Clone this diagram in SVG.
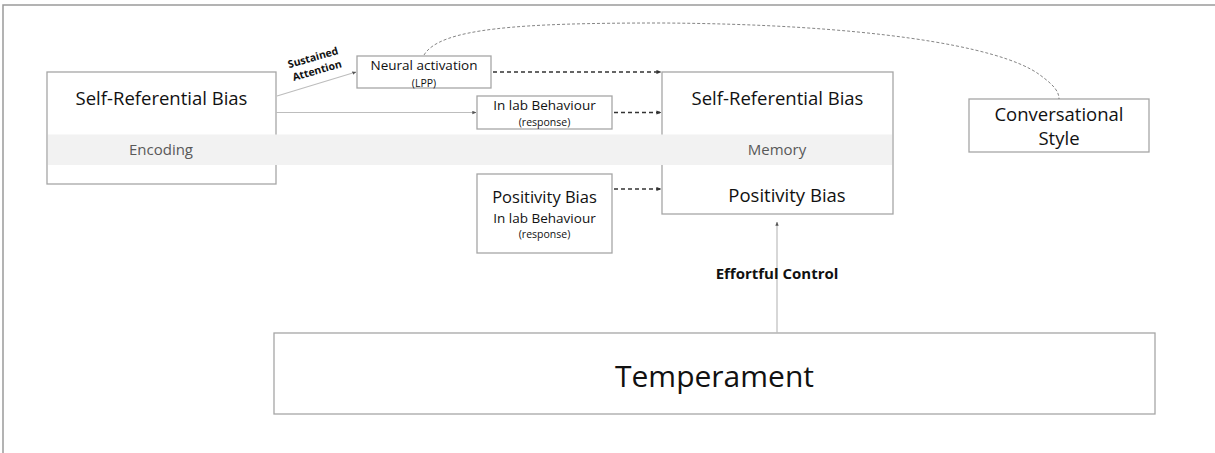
<svg xmlns="http://www.w3.org/2000/svg" width="1215" height="453" viewBox="0 0 1215 453">
  <defs>
    <marker id="tip" viewBox="0 0 6 6" refX="5.5" refY="3" markerWidth="5" markerHeight="5" markerUnits="userSpaceOnUse" orient="auto">
      <path d="M0,0.5 L6,3 L0,5.5 Z" fill="#333"/>
    </marker>
    <marker id="tipGrey" viewBox="0 0 6 6" refX="5.5" refY="3" markerWidth="4" markerHeight="4" markerUnits="userSpaceOnUse" orient="auto">
      <path d="M0,0.5 L6,3 L0,5.5 Z" fill="#555"/>
    </marker>
    <style>
      .frame { stroke: #9a9a9a; stroke-width: 1.5; fill: none; }
      .box { fill: #ffffff; stroke: #a6a6a6; stroke-width: 1.3; }
      .band { fill: #f2f2f2; }
      .t { font-family: "Open Sans", "Liberation Sans", sans-serif; fill: #111; text-anchor: middle; }
      .muted { fill: #595959; }
      .bold { font-weight: bold; }
      .dash { stroke: #333; stroke-width: 1.3; stroke-dasharray: 4 3; fill: none; }
      .solid { stroke: #bdbdbd; stroke-width: 1.2; fill: none; }
      .curve { stroke: #777; stroke-width: 0.9; stroke-dasharray: 3 2; fill: none; }
    </style>
  </defs>

  <rect width="1215" height="453" fill="#ffffff"/>

  <!-- page frame (top and left edges) -->
  <path class="frame" d="M3,453 L3,5 L1215,5"/>

  <!-- node boxes -->
  <g id="encoding-box">
    <rect class="box" x="47" y="72" width="229" height="112"/>
  </g>
  <g id="memory-box">
    <rect class="box" x="662" y="72" width="231" height="142"/>
  </g>

  <!-- shared stage band across encoding and memory -->
  <rect class="band" x="48" y="134.5" width="844" height="30.5"/>

  <g id="encoding">
    <text class="t" x="161.5" y="105" font-size="18.5">Self-Referential Bias</text>
    <text class="t muted" x="161" y="155" font-size="15">Encoding</text>
  </g>

  <g id="memory">
    <text class="t" x="777.5" y="105" font-size="18.5">Self-Referential Bias</text>
    <text class="t muted" x="777" y="155" font-size="15">Memory</text>
    <text class="t" x="787" y="202" font-size="18.5">Positivity Bias</text>
  </g>

  <g id="neural-activation">
    <rect class="box" x="357" y="56" width="134" height="32"/>
    <text class="t" x="424" y="70" font-size="13.5">Neural activation</text>
    <text class="t" x="424" y="86.5" font-size="10.5">(LPP)</text>
  </g>

  <g id="lab-behaviour">
    <rect class="box" x="477" y="96" width="135" height="33"/>
    <text class="t" x="544.5" y="110" font-size="13.5">In lab Behaviour</text>
    <text class="t" x="544.5" y="126" font-size="10.5">(response)</text>
  </g>

  <g id="positivity-behaviour">
    <rect class="box" x="477" y="174" width="135" height="79"/>
    <text class="t" x="544.5" y="203" font-size="16.5">Positivity Bias</text>
    <text class="t" x="544.5" y="223" font-size="13.5">In lab Behaviour</text>
    <text class="t" x="544.5" y="238" font-size="10.5">(response)</text>
  </g>

  <g id="conversational-style">
    <rect class="box" x="969" y="99" width="180" height="53"/>
    <text class="t" x="1059" y="121" font-size="18.5">Conversational</text>
    <text class="t" x="1059" y="145" font-size="18.5">Style</text>
  </g>

  <g id="temperament">
    <rect class="box" x="274" y="333" width="881" height="81"/>
    <text class="t" x="714.5" y="387" font-size="30">Temperament</text>
  </g>

  <!-- connectors -->
  <g id="connectors">
    <path class="solid" d="M277,96 L356,72" marker-end="url(#tipGrey)"/>
    <path class="solid" d="M276,112.5 L476,112.5" marker-end="url(#tipGrey)"/>
    <path class="dash" d="M493,72 L661,72" marker-end="url(#tip)"/>
    <path class="dash" d="M614,112.5 L661,112.5" marker-end="url(#tip)"/>
    <path class="dash" d="M614,189 L661,189" marker-end="url(#tip)"/>
    <path class="solid" d="M777,333 L777,222" marker-end="url(#tipGrey)"/>
    <path class="curve" d="M424,55 C440,28 520,23 660,23 C860,24 1000,45 1040,75 C1055,86 1059,92 1059,99"/>
  </g>

  <!-- connector labels -->
  <g id="connector-labels">
    <text class="t bold" x="314" y="61" font-size="10.5" transform="rotate(-16 314 61)">Sustained</text>
    <text class="t bold" x="318" y="74" font-size="10.5" transform="rotate(-16 318 74)">Attention</text>
    <text class="t bold" x="777" y="279" font-size="15">Effortful Control</text>
  </g>
</svg>
